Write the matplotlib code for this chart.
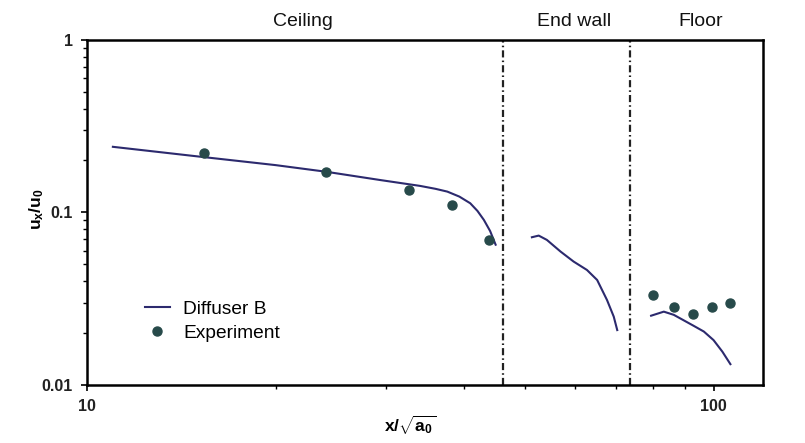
import numpy as np
import matplotlib
matplotlib.use("Agg")
import matplotlib.pyplot as plt
from matplotlib.ticker import FixedLocator, NullFormatter, FixedFormatter

plt.rcParams['font.family'] = ['Liberation Sans', 'DejaVu Sans']
plt.rcParams['mathtext.fontset'] = 'custom'
plt.rcParams['mathtext.rm'] = 'Liberation Sans'
plt.rcParams['mathtext.bf'] = 'Liberation Sans:bold'
plt.rcParams['mathtext.it'] = 'Liberation Sans:bold'

# Simulated velocity decay (Diffuser B), one segment per surface
ceiling_x = [11.0, 15.4, 20.0, 24.1, 29.4, 34.0, 36.0, 37.6, 39.3, 40.9, 42.0, 43.0, 44.0, 44.9]
ceiling_y = [0.240, 0.209, 0.188, 0.172, 0.154, 0.1425, 0.137, 0.132, 0.1235, 0.113, 0.102,
             0.0905, 0.078, 0.065]
endwall_x = [51.3, 52.6, 54.2, 57.0, 59.8, 62.8, 65.2, 67.6, 69.3, 70.2]
endwall_y = [0.0718, 0.0734, 0.0693, 0.0593, 0.0519, 0.0464, 0.0406, 0.0311, 0.0249, 0.0208]
floor_x = [79.5, 83.3, 86.4, 93.0, 96.5, 100.0, 103.3, 106.4]
floor_y = [0.0252, 0.0266, 0.0255, 0.0220, 0.0204, 0.0182, 0.0156, 0.0132]

# Measured values
exp_x = [15.35, 24.1, 32.7, 38.2, 43.8, 80.1, 86.4, 92.9, 99.4, 106.1]
exp_y = [0.220, 0.172, 0.135, 0.110, 0.069, 0.0333, 0.0282, 0.0258, 0.0282, 0.030]

# Surface boundaries and labels
boundaries = [46.1, 73.5]
regions = ['Ceiling', 'End wall', 'Floor']
region_x = [22.1, 59.8, 95.3]

line_color = '#2c2a6e'
dot_color = '#274a4a'

fig = plt.figure(figsize=(8.05, 4.43), dpi=100)
ax = fig.add_axes([0.108, 0.131, 0.840, 0.779])

ax.plot(ceiling_x, ceiling_y, color=line_color, lw=1.5, label='Diffuser B')
ax.plot(endwall_x, endwall_y, color=line_color, lw=1.5)
ax.plot(floor_x, floor_y, color=line_color, lw=1.5)
ax.plot(exp_x, exp_y, 'o', color=dot_color, ms=6.5, mec=dot_color, label='Experiment')

for b in boundaries:
    ax.axvline(b, color='#222222', lw=1.6, dashes=(3.2, 1.4, 0.7, 1.4))

ax.set_xscale('log')
ax.set_yscale('log')
ax.set_xlim(10, 120)
ax.set_ylim(0.01, 1)

ax.xaxis.set_major_locator(FixedLocator([10, 100]))
ax.xaxis.set_major_formatter(FixedFormatter(['10', '100']))
ax.xaxis.set_minor_locator(FixedLocator([20, 30, 40, 50, 60, 70, 80, 90]))
ax.xaxis.set_minor_formatter(NullFormatter())
ax.yaxis.set_major_locator(FixedLocator([0.01, 0.1, 1]))
ax.yaxis.set_major_formatter(FixedFormatter(['0.01', '0.1', '1']))
ax.yaxis.set_minor_formatter(NullFormatter())

for s in ax.spines.values():
    s.set_linewidth(1.8)
ax.tick_params(which='major', length=4, width=1.2, labelsize=11.5, pad=6)
ax.tick_params(which='minor', length=3, width=1.0)
for lab in ax.get_xticklabels() + ax.get_yticklabels():
    lab.set_fontweight('bold')
    lab.set_color('#222222')

for name, rx in zip(regions, region_x):
    ax.text(rx, 1.052, name, transform=ax.get_xaxis_transform(),
            ha='center', va='center', fontsize=14, color='#111111')

ax.set_xlabel(r'$\mathbf{x/\sqrt{a_0}}$', fontsize=12.5, va='center')
ax.xaxis.set_label_coords(0.478, -0.116)
ax.set_ylabel(r'$\mathbf{u_x/u_0}$', fontsize=12.5)
ax.yaxis.set_label_coords(-0.061, 0.51)

ax.legend(loc='lower left', bbox_to_anchor=(0.06, 0.075), frameon=False,
          fontsize=13.8, handlelength=1.3, handletextpad=0.7, labelspacing=0.35)

fig.savefig('out.png', dpi=100, facecolor='white')
plt.close(fig)
